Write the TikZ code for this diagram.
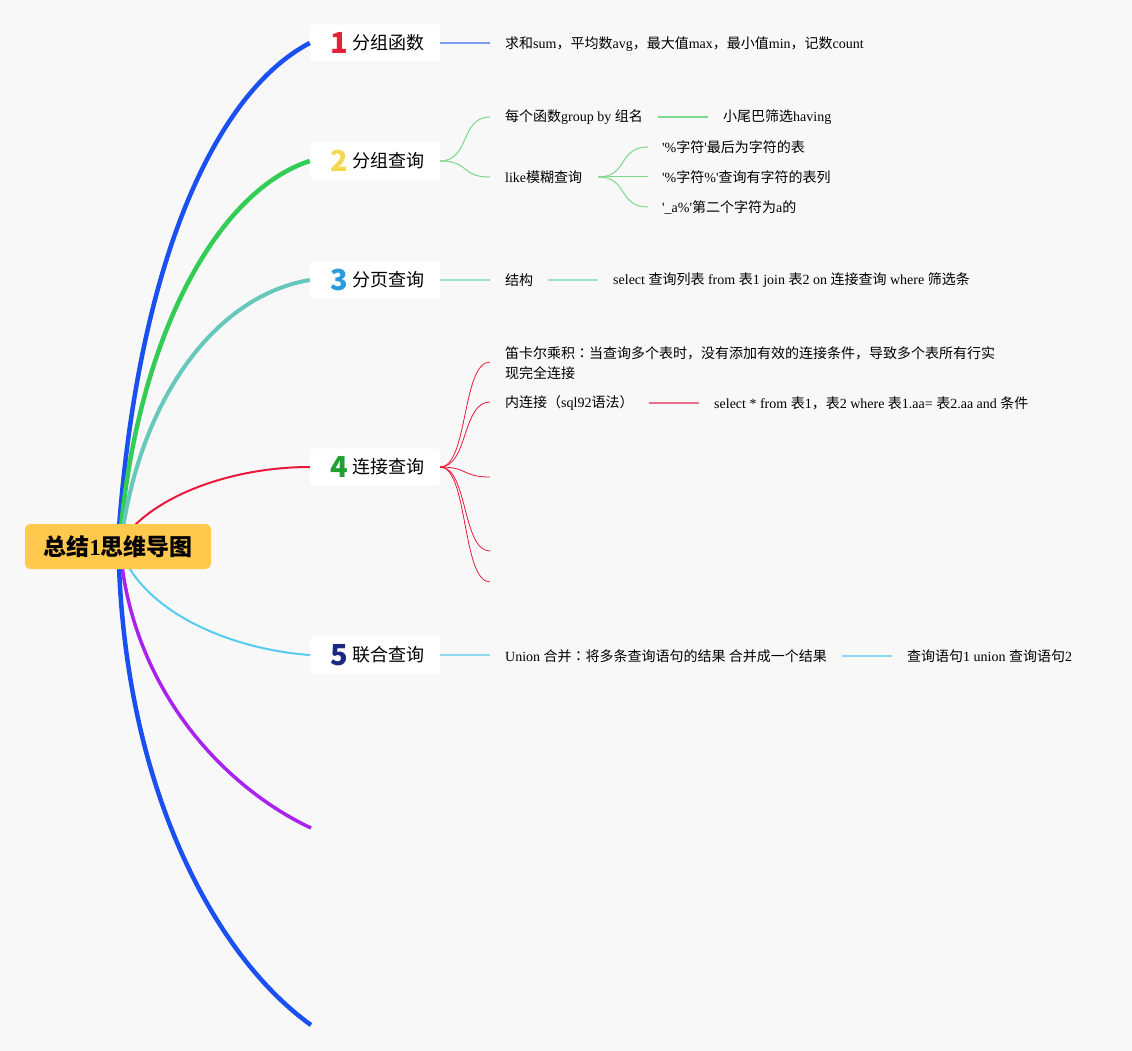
\documentclass[tikz,border=0pt]{standalone}
\usepackage{fontspec}
\setmainfont{Liberation Serif}
\newfontfamily\cjk{Noto Sans CJK SC}
\newfontfamily\cjktc{Noto Sans CJK TC}
\newcommand\zh[1]{{\cjk #1}}
\newcommand\zcolon{{\cjktc ：}}
\definecolor{bgc}{HTML}{F8F8F8}
\definecolor{rootc}{HTML}{FFC94D}
\definecolor{cblue}{HTML}{1A4FF0}
\definecolor{cgreen}{HTML}{33CC55}
\definecolor{cteal}{HTML}{66C7BB}
\definecolor{cred}{HTML}{E8193C}
\definecolor{clblue}{HTML}{55CCF0}
\definecolor{cpurple}{HTML}{AA22F0}
\definecolor{kblue}{HTML}{7B9CF0}
\definecolor{kgreen}{HTML}{7AD98C}
\definecolor{kteal}{HTML}{A3DDD6}
\definecolor{kred}{HTML}{E8708A}
\definecolor{klblue}{HTML}{8ED8F2}
\definecolor{n1c}{HTML}{E5203A}
\definecolor{n2c}{HTML}{F4D84F}
\definecolor{n3c}{HTML}{2D9BE0}
\definecolor{n4c}{HTML}{1FA030}
\definecolor{n5c}{HTML}{1B2A80}
\begin{document}
\begin{tikzpicture}[x=1pt,y=-1pt,
  mbox/.style={fill=white, rounded corners=3pt, minimum width=130pt, minimum height=37pt, inner sep=0pt},
  num/.style={font=\cjk\bfseries\fontsize{29}{30}\selectfont, inner sep=0pt},
  mlabel/.style={anchor=west, font=\cjk\fontsize{18}{20}\selectfont, inner sep=0pt},
  ctext/.style={anchor=west, font=\fontsize{14}{20}\selectfont, inner sep=0pt, align=left},
  thin link/.style={line width=1pt}
]
\useasboundingbox (0,0) rectangle (1132,1051);
\fill[bgc] (0,0) rectangle (1132,1051);

% anchor coordinates on root
\coordinate (r1) at (119,528);
\coordinate (r2) at (121,528);
\coordinate (r3) at (123,528);
\coordinate (r4) at (134,526);
\coordinate (r5) at (128,566);
\coordinate (r6) at (122,566);
\coordinate (r7) at (119,566);

% main boxes
\node[mbox] (b1) at (375,43) {};
\node[mbox] (b2) at (375,161) {};
\node[mbox] (b3) at (375,280) {};
\node[mbox] (b4) at (375,467) {};
\node[mbox] (b5) at (375,655) {};
\coordinate (b6) at (311,828);
\coordinate (b7) at (311,1025);

% main branches
\draw[cblue, line width=4.5pt] (r1) .. controls (140,250) and (220,90) .. (b1.west);
\draw[cgreen, line width=4.5pt] (r2) .. controls (140,330) and (220,190) .. (b2.west);
\draw[cteal, line width=4pt] (r3) .. controls (145,390) and (220,295) .. (b3.west);
\draw[cred, line width=2pt] (r4) .. controls (170,490) and (240,467) .. (b4.west);
\draw[clblue, line width=2pt] (r5) .. controls (160,620) and (240,650) .. (b5.west);
\draw[cpurple, line width=3.5pt] (r6) .. controls (140,700) and (230,790) .. (b6);
\draw[cblue, line width=4.5pt] (r7) .. controls (128,800) and (220,960) .. (b7);

% root
\node[fill=rootc, rounded corners=5pt, minimum width=186pt, minimum height=45pt, inner sep=0pt,
  font=\cjk\bfseries\fontsize{23}{26}\selectfont] (root) at (118,546.5) {总结{\rmfamily\bfseries 1}思维导图};

% numbers and labels
\node[num, text=n1c] (d1) at (339,43) {1};
\node[mlabel] (l1) at (352,43) {分组函数};
\node[num, text=n2c] (d2) at (339,161) {2};
\node[mlabel] (l2) at (352,161) {分组查询};
\node[num, text=n3c] (d3) at (339,280) {3};
\node[mlabel] (l3) at (352,280) {分页查询};
\node[num, text=n4c] (d4) at (339,467) {4};
\node[mlabel] (l4) at (352,467) {连接查询};
\node[num, text=n5c] (d5) at (339,655) {5};
\node[mlabel] (l5) at (352,655) {联合查询};

% branch 1
\node[ctext] (t1) at (505,44) {\zh{求和}sum\zh{，平均数}avg\zh{，最大值}max\zh{，最小值}min\zh{，记数}count};
\draw[kblue, line width=1.6pt] (b1.east) -- ([xshift=-15pt]t1.west |- b1.east);

% branch 2
\node[ctext] (t2a) at (505,117) {\zh{每个函数}group by \zh{组名}};
\node[ctext] (t2b) at (723,117) {\zh{小尾巴筛选}having};
\node[ctext] (t2c) at (505,177) {like\zh{模糊查询}};
\node[ctext] (t2d) at (662,147) {\textquotesingle\%\zh{字符}\textquotesingle\zh{最后为字符的表}};
\node[ctext] (t2e) at (662,177) {\textquotesingle\%\zh{字符}\%\textquotesingle\zh{查询有字符的表列}};
\node[ctext] (t2f) at (662,207) {\textquotesingle\_a\%\textquotesingle\zh{第二个字符为}a\zh{的}};
\coordinate (e2a) at (490,117);
\coordinate (e2c) at (490,177);
\draw[kgreen, thin link] (b2.east) .. controls (470,161) and (460,117) .. (e2a);
\draw[kgreen, thin link] (b2.east) .. controls (470,161) and (460,177) .. (e2c);
\draw[kgreen, line width=1.5pt] ([xshift=15pt]t2a.east) -- ([xshift=-15pt]t2b.west);
\coordinate (s2) at ([xshift=16pt]t2c.east);
\coordinate (e2d) at (648,147);
\coordinate (e2e) at (648,177);
\coordinate (e2f) at (648,207);
\draw[kgreen, thin link] (s2) .. controls (628,177) and (618,147) .. (e2d);
\draw[kgreen, thin link] (s2) -- (e2e);
\draw[kgreen, thin link] (s2) .. controls (628,177) and (618,207) .. (e2f);

% branch 3
\node[ctext] (t3a) at (505,280) {\zh{结构}};
\node[ctext] (t3b) at (613,280) {select \zh{查询列表} from \zh{表}1 join \zh{表}2 on \zh{连接查询} where \zh{筛选条}};
\draw[kteal, line width=1.6pt] (b3.east) -- ([xshift=-15pt]t3a.west |- b3.east);
\draw[kteal, line width=1.5pt] ([xshift=15pt]t3a.east) -- ([xshift=-15pt]t3b.west);

% branch 4
\node[ctext] (t4a) at (505,363) {\zh{笛卡尔乘积}\zcolon\zh{当查询多个表时，没有添加有效的连接条件，导致多个表所有行实}\\\zh{现完全连接}};
\node[ctext] (t4b) at (505,403) {\zh{内连接（}sql92\zh{语法）}};
\node[ctext] (t4c) at (714,403) {select * from \zh{表}1\zh{，表}2 where \zh{表}1.aa= \zh{表}2.aa and \zh{条件}};
\coordinate (e4a) at (490,362);
\coordinate (e4b) at (490,402);
\coordinate (e4c) at (490,477);
\coordinate (e4d) at (490,551);
\coordinate (e4e) at (490,582);
\foreach \e in {e4a,e4b,e4c,e4d,e4e}
  \draw[cred, line width=0.8pt] (b4.east) .. controls (468,467) and (462,467 |- \e) .. (\e);
\draw[kred, line width=1.5pt] ([xshift=15pt]t4b.east) -- ([xshift=-15pt]t4c.west);

% branch 5
\node[ctext] (t5a) at (505,656) {Union \zh{合并}\zcolon\zh{将多条查询语句的结果 合并成一个结果}};
\node[ctext] (t5b) at (907,656) {\zh{查询语句}1 union \zh{查询语句}2};
\draw[klblue, line width=1.6pt] (b5.east) -- ([xshift=-15pt]t5a.west |- b5.east);
\draw[klblue, line width=1.5pt] ([xshift=15pt]t5a.east) -- ([xshift=-15pt]t5b.west);
\end{tikzpicture}
\end{document}
